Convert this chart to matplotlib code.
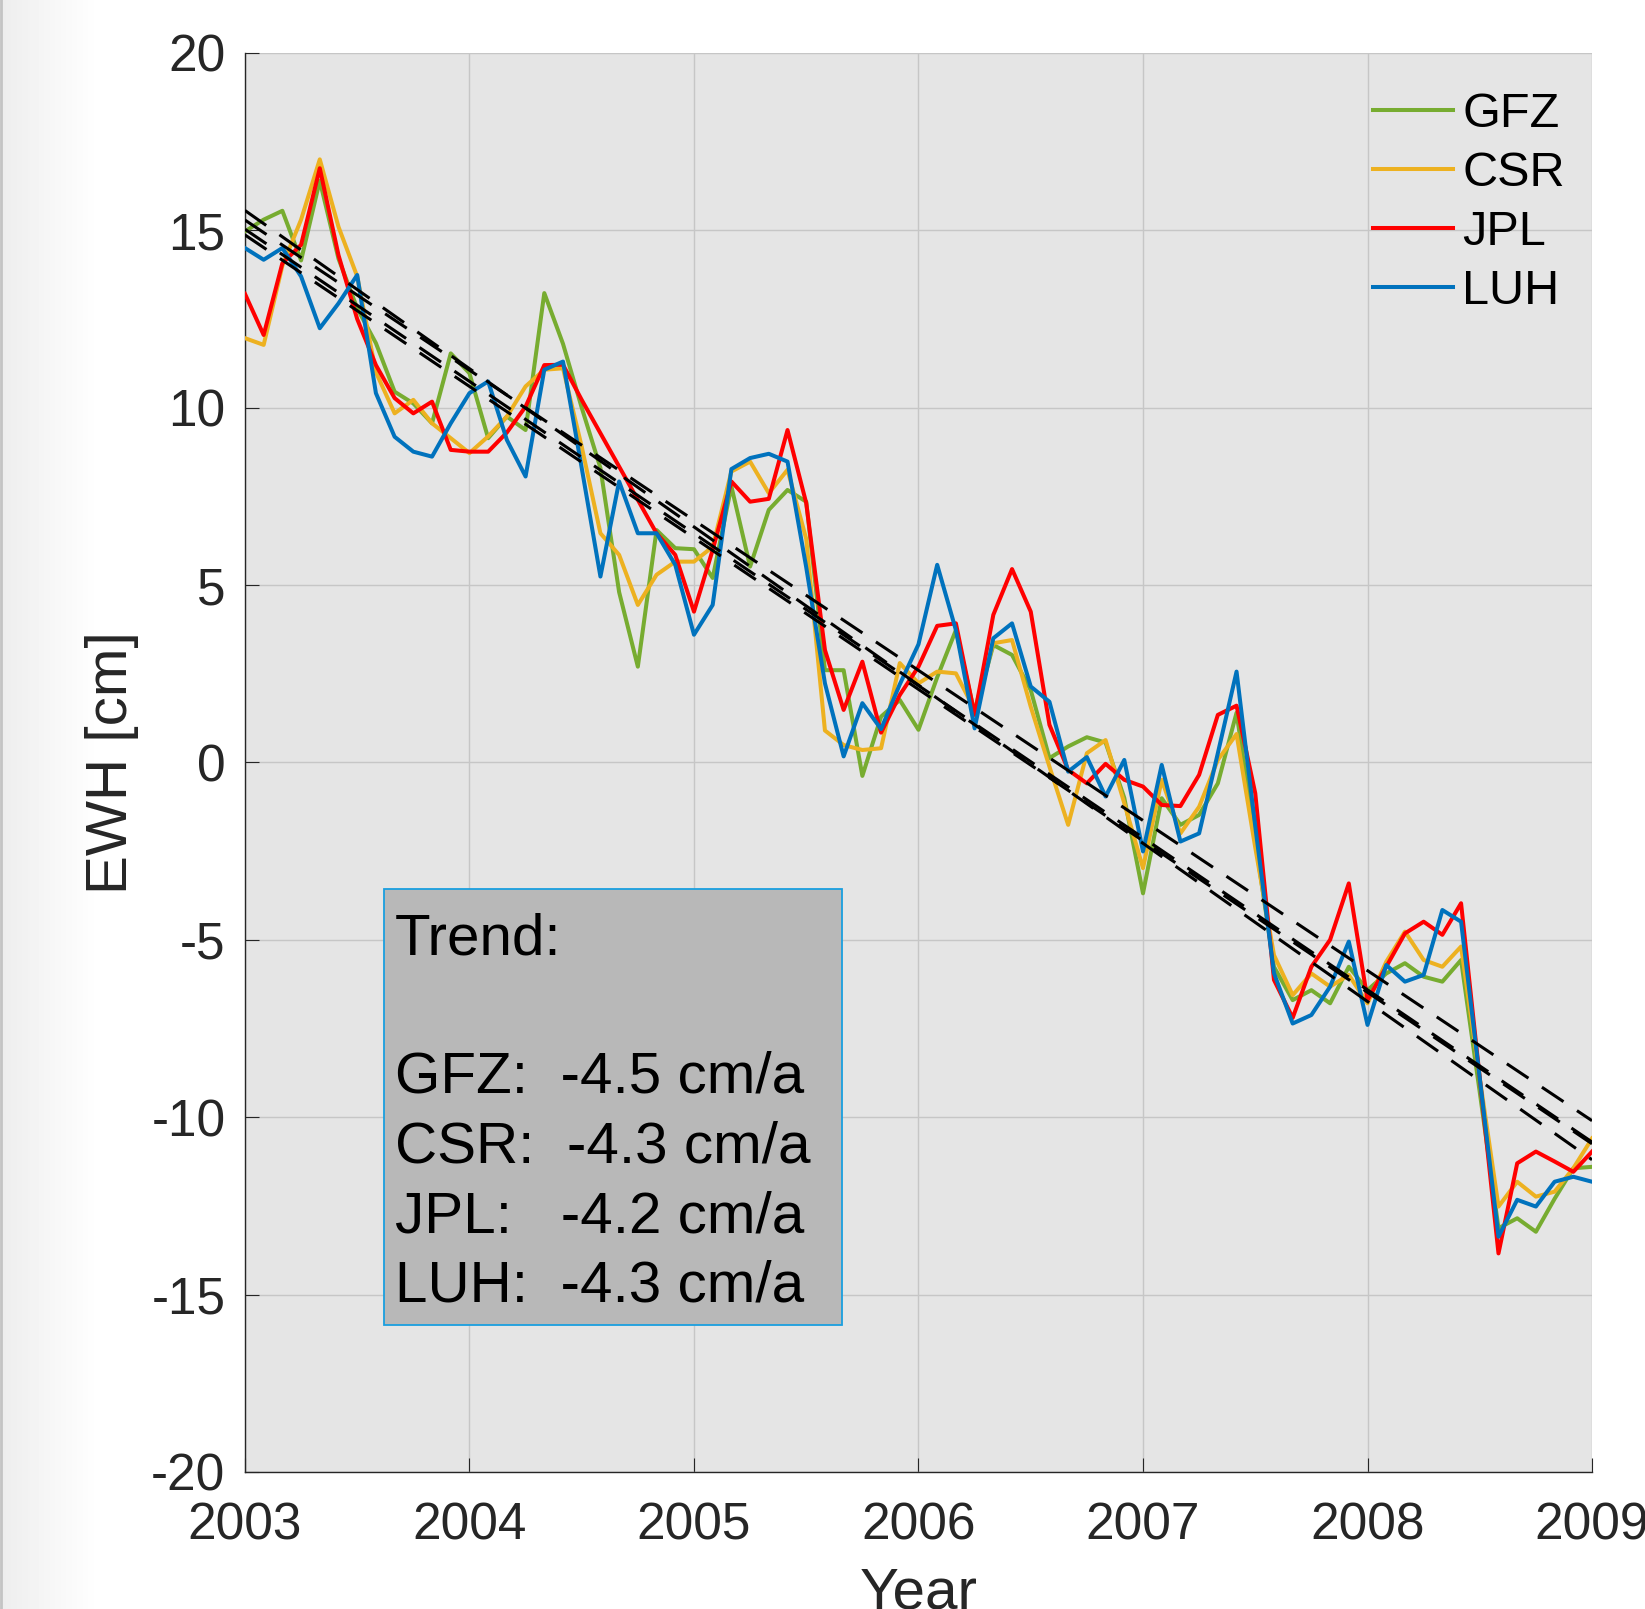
import numpy as np
import matplotlib.pyplot as plt
from matplotlib.patches import Rectangle
from matplotlib.lines import Line2D

plt.rcParams['font.family'] = ['Liberation Sans', 'DejaVu Sans']
plt.rcParams['axes.unicode_minus'] = False

# EWH in cm, one value per month from Jan 2003 to Jan 2009
months = np.arange(73)
years = 2003 + months / 12

gfz = [14.97, 15.3, 15.55, 14.15, 16.4, 14.2, 12.8, 11.82, 10.45, 10.12,
       9.56, 11.53, 10.97, 9.14, 9.75, 9.37, 13.23, 11.8, 10.0, 8.3,
       4.8, 2.7, 6.55, 6.04, 6.01, 5.2, 7.78, 5.52, 7.12, 7.68,
       7.35, 2.6, 2.6, -0.38, 1.29, 1.76, 0.92, 2.4, 3.73, 1.38,
       3.31, 3.03, 2.04, 0.12, 0.45, 0.71, 0.56, -1.0, -3.69, -1.01,
       -1.76, -1.48, -0.59, 1.4, -2.2, -5.76, -6.7, -6.42, -6.79, -5.76,
       -6.42, -5.95, -5.66, -6.04, -6.18, -5.57, -9.3, -13.13, -12.85, -13.23,
       -12.3, -11.44, -11.4]
csr = [11.96, 11.77, 14.0, 15.3, 17.0, 15.1, 13.7, 11.0, 9.84, 10.22,
       9.56, 9.14, 8.72, 9.19, 9.75, 10.6, 11.07, 11.11, 8.9, 6.46,
       5.85, 4.44, 5.29, 5.66, 5.66, 6.08, 8.2, 8.48, 7.59, 8.25,
       6.3, 0.9, 0.49, 0.35, 0.4, 2.8, 2.23, 2.56, 2.51, 1.48,
       3.36, 3.45, 1.57, -0.12, -1.76, 0.26, 0.63, -1.15, -2.98, -0.49,
       -2.0, -1.25, 0.07, 0.8, -2.4, -5.43, -6.56, -5.95, -6.32, -5.99,
       -6.79, -5.62, -4.77, -5.57, -5.76, -5.19, -8.9, -12.52, -11.82, -12.24,
       -12.1, -11.44, -10.6]
jpl = [13.21, 12.05, 14.07, 14.59, 16.75, 14.3, 12.5, 11.2, 10.27, 9.84,
       10.17, 8.81, 8.76, 8.76, 9.3, 10.03, 11.2, 11.21, 10.22, 9.28,
       8.34, 7.4, 6.46, 5.85, 4.25, 5.99, 7.92, 7.35, 7.43, 9.37,
       7.31, 3.17, 1.48, 2.84, 0.84, 1.9, 2.7, 3.85, 3.92, 1.34,
       4.16, 5.45, 4.25, 1.06, -0.21, -0.59, -0.04, -0.49, -0.68, -1.2,
       -1.23, -0.35, 1.34, 1.6, -0.87, -6.13, -7.2, -5.76, -5.0, -3.41,
       -6.7, -5.76, -4.82, -4.49, -4.86, -3.97, -8.9, -13.84, -11.3, -10.97,
       -11.25, -11.54, -10.97]
luh = [14.5, 14.17, 14.5, 13.7, 12.24, 12.94, 13.74, 10.41, 9.18, 8.76,
       8.62, 9.56, 10.41, 10.74, 9.09, 8.06, 11.07, 11.3, 8.3, 5.24,
       7.92, 6.46, 6.46, 5.57, 3.6, 4.44, 8.27, 8.58, 8.7, 8.48,
       5.5, 2.23, 0.17, 1.67, 0.94, 2.2, 3.33, 5.57, 3.73, 0.96,
       3.5, 3.92, 2.14, 1.71, -0.26, 0.15, -0.96, 0.07, -2.51, -0.07,
       -2.23, -2.0, 0.26, 2.56, -1.8, -5.94, -7.36, -7.12, -6.32, -5.05,
       -7.4, -5.71, -6.18, -5.99, -4.16, -4.49, -8.9, -13.37, -12.33, -12.52,
       -11.82, -11.68, -11.82]

names = ['GFZ', 'CSR', 'JPL', 'LUH']
colors = ['#77AC30', '#EDB120', '#FF0000', '#0072BD']
rates = ['-4.5', '-4.3', '-4.2', '-4.3']
gaps = ['  ', '  ', '   ', '  ']

# linear trend lines, value at start and end of the period
trend_start = [15.56, 15.03, 15.29, 14.87]
trend_end = [-11.2, -10.7, -10.1, -10.75]
trend_years = [2003, 2009]

year_ticks = [2003, 2004, 2005, 2006, 2007, 2008, 2009]
ewh_ticks = [-20, -15, -10, -5, 0, 5, 10, 15, 20]

fig = plt.figure(figsize=(16.45, 16.09), dpi=100)

# grey shade at the left border of the window
gax = fig.add_axes([0, 0, 100 / 1645, 1])
gax.imshow(np.linspace(0.93, 1.0, 100)[None, :], cmap='gray', vmin=0, vmax=1,
           aspect='auto')
gax.axis('off')
fig.add_artist(Line2D([0.0008, 0.0008], [0, 1], color='#c4c4c4', lw=2))

ax = fig.add_axes([0.1489, 0.0852, 0.8189, 0.8819])
ax.set_facecolor('#e5e5e5')

series = [gfz, csr, jpl, luh]
for vals, name, c in zip(series, names, colors):
    ax.plot(years, vals, color=c, lw=2.9, label=name, zorder=3)
for a, b in zip(trend_start, trend_end):
    ax.plot(trend_years, [a, b], color='k', lw=2.2, ls=(0, (8.5, 5.3)), zorder=4)

ax.set_xlim(2003, 2009)
ax.set_ylim(-20, 20)
ax.set_xticks(year_ticks, [str(y) for y in year_ticks])
ax.set_yticks(ewh_ticks, [str(v) for v in ewh_ticks])
ax.grid(True, color='#c6c6c6', lw=1.0)
ax.set_axisbelow(True)
for s in ['top', 'right']:
    ax.spines[s].set_visible(False)
for s in ['left', 'bottom']:
    ax.spines[s].set_color('#262626')
    ax.spines[s].set_linewidth(1.0)
ax.tick_params(direction='in', length=10, width=0.8, color='#262626',
               labelcolor='#262626', labelsize=37)
ax.tick_params(axis='x', pad=21)
ax.tick_params(axis='y', pad=14)
ax.set_ylabel('EWH [cm]', fontsize=42, color='#262626', labelpad=9)
ax.set_xlabel('Year', fontsize=42, color='#262626', labelpad=11.5)

ax.legend(loc='upper left', bbox_to_anchor=(0.8374, 0.9726), frameon=False,
          fontsize=35, handlelength=1.65, handletextpad=0.19,
          labelspacing=0.29, borderpad=0, borderaxespad=0)

# trend box
ax.add_patch(Rectangle((0.1032, 0.1036), 0.34, 0.3073, transform=ax.transAxes,
                       facecolor='#b8b8b8', edgecolor='#1a9fdf', lw=1.3,
                       zorder=5))
ax.text(0.1114, 0.3643, 'Trend:', transform=ax.transAxes, fontsize=42,
        va='baseline', ha='left', zorder=6)
for i, (name, gap, r) in enumerate(zip(names, gaps, rates)):
    ax.text(0.1114, 0.2671 - i * 0.0491, name + ':' + gap + r + ' cm/a',
            transform=ax.transAxes, fontsize=42, va='baseline', ha='left',
            zorder=6)

fig.savefig('out.png', dpi=100)
